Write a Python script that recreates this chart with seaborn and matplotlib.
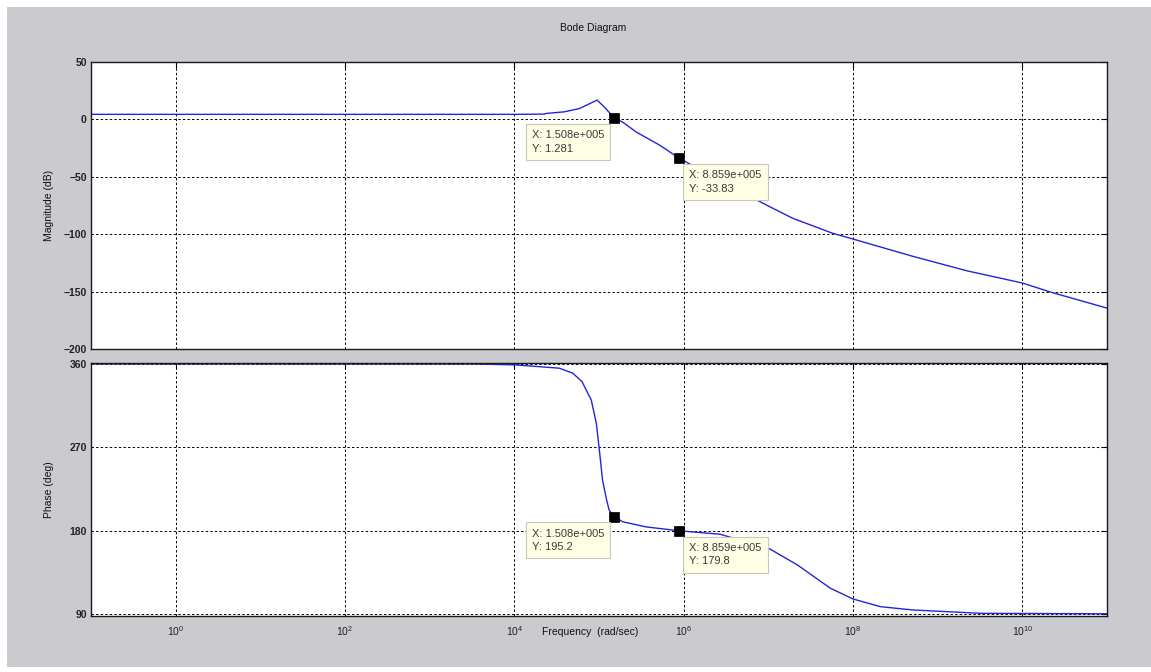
import numpy as np
import pandas as pd
import matplotlib
matplotlib.use("Agg")
import matplotlib.pyplot as plt
from matplotlib.ticker import FixedLocator, LogFormatterSciNotation, NullLocator
import seaborn as sns

# ---------------- data ----------------
mag_freq = [1e-1, 1e4, 1.6e4, 2.24e4, 2.4e4, 3.9e4, 5.9e4, 7.8e4, 9.5e4, 1.17e5,
            1.508e5, 1.9e5, 2.75e5, 5.25e5, 8.859e5, 2.8e6, 9.5e6, 1.95e7,
            5.75e7, 1e8, 5.1e8, 2.25e9, 1e10, 2.15e10, 1e11]
mag_db = [4.4, 4.4, 4.5, 4.6, 5.2, 6.6, 9.5, 13.8, 16.8, 10.4,
          1.281, -2.3, -11.0, -22.6, -33.83, -54.0, -74.6, -86.2,
          -99.2, -104.2, -119.3, -132.0, -142.5, -150.4, -164.4]

ph_freq = [1e-1, 3.2e3, 1.05e4, 3.4e4, 4.9e4, 6.3e4, 8.1e4, 9.3e4, 1.01e5, 1.1e5,
           1.23e5, 1.32e5, 1.508e5, 1.9e5, 3.6e5, 8.859e5, 2.7e6, 1.05e7,
           2.2e7, 5.4e7, 1e8, 2.1e8, 5.1e8, 3.2e9, 1e11]
ph_deg = [360.0, 360.0, 358.9, 355.4, 350.0, 340.9, 321.0, 296.0, 267.0, 234.7,
          213.0, 202.0, 195.2, 189.6, 184.0, 179.8, 176.1, 160.0,
          143.0, 117.8, 106.2, 97.9, 94.3, 90.7, 90.2]

tip_freq = [1.508e5, 8.859e5]
tip_freq_labels = ["1.508e+005", "8.859e+005"]
tip_mag = [1.281, -33.83]
tip_mag_labels = ["1.281", "-33.83"]
tip_ph = [195.2, 179.8]
tip_ph_labels = ["195.2", "179.8"]

x_ticks = [1e0, 1e2, 1e4, 1e6, 1e8, 1e10]
mag_ticks = [-200, -150, -100, -50, 0, 50]
ph_ticks = [90, 180, 270, 360]

title_text = "Bode Diagram"
xlabel_text = "Frequency  (rad/sec)"
mag_label = "Magnitude (dB)"
ph_label = "Phase (deg)"

# ---------------- style ----------------
sns.set_style("white")
plt.rcParams["font.family"] = ["Liberation Sans", "DejaVu Sans"]
plt.rcParams["mathtext.fontset"] = "custom"
plt.rcParams["mathtext.rm"] = "Liberation Sans:bold"
plt.rcParams["mathtext.it"] = "Liberation Sans:italic"
plt.rcParams["mathtext.bf"] = "Liberation Sans:bold"

W, H = 1151, 672
fig = plt.figure(figsize=(W / 100, H / 100), dpi=100)
fig.patch.set_facecolor("white")
bg = plt.Rectangle((7 / W, 5 / H), 1 - 7 / W, 1 - 12 / H, transform=fig.transFigure,
                   facecolor="#cbcbcf", edgecolor="none", zorder=-10)
fig.add_artist(bg)

def fx(px):
    return px / W

def fy(py):
    return 1 - py / H

ax1 = fig.add_axes([fx(91), fy(349), fx(1107) - fx(91), fy(62) - fy(349)])
ax2 = fig.add_axes([fx(91), fy(616), fx(1107) - fx(91), fy(363) - fy(616)])

line_color = "#2424d8"
df_mag = pd.DataFrame({"freq": mag_freq, "mag": mag_db})
df_ph = pd.DataFrame({"freq": ph_freq, "phase": ph_deg})

for ax in (ax1, ax2):
    ax.set_facecolor("white")
    ax.set_xscale("log")

sns.lineplot(data=df_mag, x="freq", y="mag", ax=ax1, color=line_color,
             linewidth=1.0, estimator=None, sort=False)
sns.lineplot(data=df_ph, x="freq", y="phase", ax=ax2, color=line_color,
             linewidth=1.0, estimator=None, sort=False)

ax1.set_ylim(-200, 50)
ax2.set_ylim(87.8, 361)

for ax, yt in ((ax1, mag_ticks), (ax2, ph_ticks)):
    ax.set_xlim(1e-1, 1e11)
    ax.xaxis.set_major_locator(FixedLocator(x_ticks))
    ax.xaxis.set_minor_locator(NullLocator())
    ax.xaxis.set_major_formatter(LogFormatterSciNotation())
    ax.yaxis.set_major_locator(FixedLocator(yt))
    ax.yaxis.set_minor_locator(NullLocator())
    ax.grid(True, which="major", color="black", linestyle=(0, (2.5, 2.2)), linewidth=0.7)
    ax.tick_params(axis="both", direction="in", length=4, width=0.8, color="black",
                   top=True, right=True, labelsize=7.5, pad=3, labelcolor="#222222")
    for lab in ax.get_yticklabels():
        lab.set_fontweight("bold")
    for s in ax.spines.values():
        s.set_visible(True)
        s.set_color("#1a1a1a")
        s.set_linewidth(1.0)
    ax.set_xlabel("")
    ax.set_ylabel("")

ax1.tick_params(axis="x", labelbottom=False)
ax2.tick_params(axis="x", pad=6)

# data tips
def datatip(ax, x, y, xl, yl, side):
    sns.scatterplot(x=[x], y=[y], ax=ax, marker="s", s=42, color="black",
                    edgecolor="black", zorder=5, legend=False)
    if side == "left":
        off, ha = (-10, -12), "right"
    else:
        off, ha = (10, -12), "left"
    ax.annotate(f"X: {xl}\nY: {yl}", xy=(x, y), xytext=off, textcoords="offset pixels",
                ha=ha, va="top", multialignment="left", fontsize=8, color="#3a3a3a",
                linespacing=1.45,
                bbox=dict(boxstyle="square,pad=0.55", facecolor="#ffffe6",
                          edgecolor="#c8c8b8", linewidth=0.8), zorder=6)

datatip(ax1, tip_freq[0], tip_mag[0], tip_freq_labels[0], tip_mag_labels[0], "left")
datatip(ax1, tip_freq[1], tip_mag[1], tip_freq_labels[1], tip_mag_labels[1], "right")
datatip(ax2, tip_freq[0], tip_ph[0], tip_freq_labels[0], tip_ph_labels[0], "left")
datatip(ax2, tip_freq[1], tip_ph[1], tip_freq_labels[1], tip_ph_labels[1], "right")

fig.text(fx(593), fy(28), title_text, ha="center", va="center", fontsize=7.5, color="#111111")
fig.text(fx(590), fy(632), xlabel_text, ha="center", va="center", fontsize=7.5, color="#111111")
fig.text(fx(49), fy(205), mag_label, ha="center", va="center", rotation=90, fontsize=7.5, color="#111111")
fig.text(fx(49), fy(490), ph_label, ha="center", va="center", rotation=90, fontsize=7.5, color="#111111")

fig.savefig("out.png", dpi=100, facecolor=fig.get_facecolor())
